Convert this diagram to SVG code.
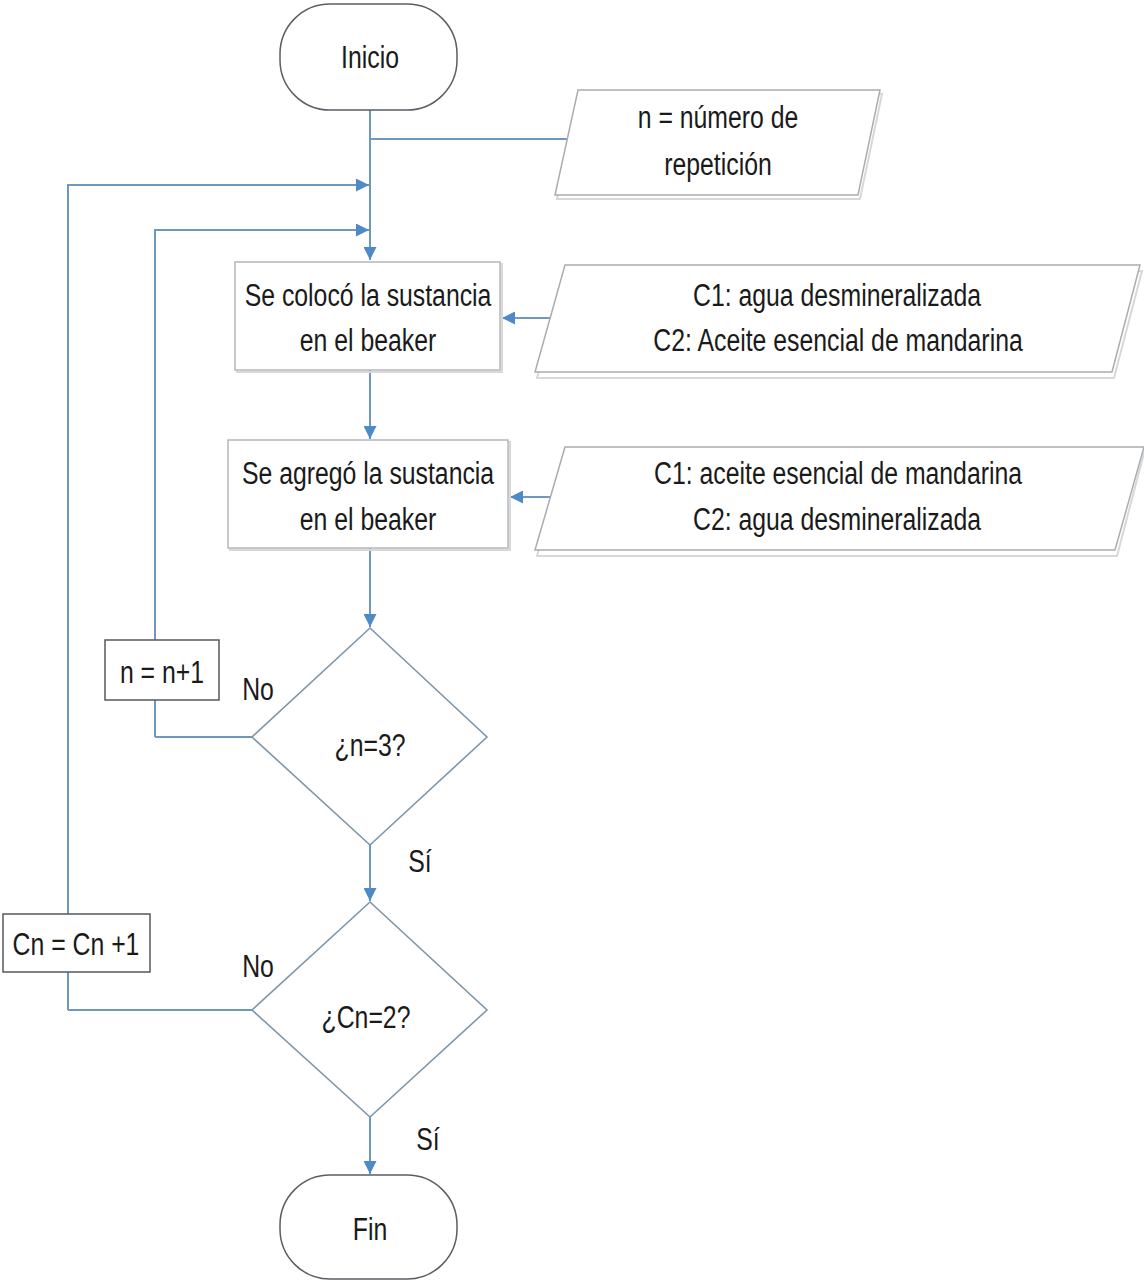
<svg xmlns="http://www.w3.org/2000/svg" width="1144" height="1282" viewBox="0 0 1144 1282">
<style>
text{font-family:"Liberation Sans Narrow","Liberation Sans",Arial,sans-serif;font-size:31px;fill:#1a1a1a;text-anchor:middle;transform-box:fill-box;transform-origin:center;transform:scaleX(0.8)}
.term{fill:#fff;stroke:#5a5f66;stroke-width:1.5}
.box{fill:#fff;stroke:#b4b7bb;stroke-width:1.5}
.box2{fill:#fff;stroke:#55595e;stroke-width:1.5}
.para{fill:#fff;stroke:#a9acb0;stroke-width:1.5}
.shadow{fill:none;stroke:#d6d8da;stroke-width:2}
.dia{fill:#fff;stroke:#7e96a8;stroke-width:1.6}
.con{fill:none;stroke:#6f98bf;stroke-width:2}
</style>
<defs>
<marker id="ah" viewBox="0 0 10 10" refX="10" refY="5" markerWidth="16" markerHeight="13" markerUnits="userSpaceOnUse" orient="auto">
<path d="M0,0 L10,5 L0,10 z" fill="#4d8ac6"/>
</marker>
</defs>
<rect width="1144" height="1282" fill="#fff"/>
<g id="connectors">
<path class="con" d="M370,110 V260" marker-end="url(#ah)"/>
<path class="con" d="M370,139 H568"/>
<path class="con" d="M68,1010 V185 H369" marker-end="url(#ah)"/>
<path class="con" d="M155,737 V230 H369" marker-end="url(#ah)"/>
<path class="con" d="M550,318 H502" marker-end="url(#ah)"/>
<path class="con" d="M370,370 V439" marker-end="url(#ah)"/>
<path class="con" d="M550,497 H510" marker-end="url(#ah)"/>
<path class="con" d="M370,548 V627" marker-end="url(#ah)"/>
<path class="con" d="M252,737 H155"/>
<path class="con" d="M370,845 V901" marker-end="url(#ah)"/>
<path class="con" d="M252,1010 H68"/>
<path class="con" d="M370,1117 V1174" marker-end="url(#ah)"/>
</g>
<g id="inicio">
<rect class="term" x="280" y="4" width="177" height="106" rx="50" ry="50"/>
<text x="370" y="68">Inicio</text>
</g>
<g id="input-n">
<polygon class="shadow" points="580,94 882,94 860,199 557,199"/>
<polygon class="para" points="578,90 880,90 858,195 555,195"/>
<text x="718" y="128">n = número de</text>
<text x="718" y="175">repetición</text>
</g>
<g id="box1">
<rect class="shadow" x="237" y="264" width="265" height="108"/>
<rect class="box" x="235" y="262" width="265" height="108"/>
<text x="368" y="306">Se colocó la sustancia</text>
<text x="368" y="351">en el beaker</text>
</g>
<g id="input1">
<polygon class="shadow" points="567,271 1142,271 1114,378 537,378"/>
<polygon class="para" points="565,265 1140,265 1112,372 535,372"/>
<text x="837" y="306">C1: agua desmineralizada</text>
<text x="838" y="351">C2: Aceite esencial de mandarina</text>
</g>
<g id="box2">
<rect class="shadow" x="230" y="442" width="280" height="108"/>
<rect class="box" x="228" y="440" width="280" height="108"/>
<text x="368" y="484">Se agregó la sustancia</text>
<text x="368" y="530">en el beaker</text>
</g>
<g id="input2">
<polygon class="shadow" points="567,453 1144,453 1117,556 537,556"/>
<polygon class="para" points="565,447 1144,447 1115,550 535,550"/>
<text x="838" y="484">C1: aceite esencial de mandarina</text>
<text x="837" y="530">C2: agua desmineralizada</text>
</g>
<g id="dec1">
<polygon class="dia" points="370,628 487,737 370,845 252,737"/>
<text x="370" y="756">¿n=3?</text>
</g>
<g id="inc-n">
<rect class="box2" x="105" y="640" width="114" height="60"/>
<text x="162" y="683">n = n+1</text>
</g>
<g id="dec2">
<polygon class="dia" points="370,902 487,1010 370,1117 252,1010"/>
<text x="366" y="1028">¿Cn=2?</text>
</g>
<g id="inc-cn">
<rect class="box2" x="3" y="914" width="147" height="58"/>
<text x="76" y="955">Cn = Cn +1</text>
</g>
<g id="labels">
<text x="258" y="700">No</text>
<text x="420" y="872">Sí</text>
<text x="258" y="977">No</text>
<text x="428" y="1150">Sí</text>
</g>
<g id="fin">
<rect class="term" x="280" y="1175" width="177" height="104" rx="50" ry="50"/>
<text x="370" y="1240">Fin</text>
</g>
</svg>
